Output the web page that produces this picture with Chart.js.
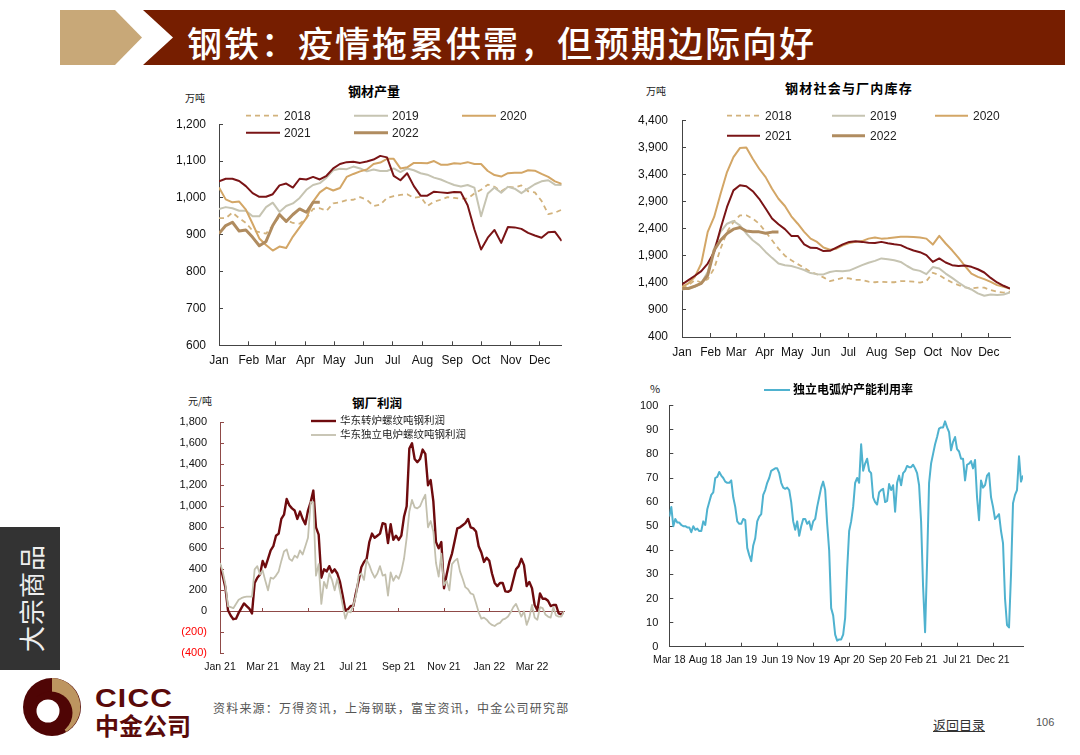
<!DOCTYPE html>
<html>
<head>
<meta charset="utf-8">
<script src="https://cdn.jsdelivr.net/npm/chart.js@4"></script>
<style>
  html, body { margin: 0; padding: 0; background: #fff; }
  body { width: 1080px; height: 755px; position: relative; overflow: hidden;
         font-family: "Liberation Sans", "Noto Sans CJK SC", sans-serif; color: #000; }
  canvas { position: absolute; }
  .abs { position: absolute; white-space: nowrap; line-height: 1; }
  .tan { position: absolute; left: 60px; top: 10px; width: 82px; height: 55px; background: #c8a878;
         clip-path: polygon(0 0, 55px 0, 100% 50%, 55px 100%, 0 100%); }
  .bar { position: absolute; left: 143px; top: 10px; width: 922px; height: 55px; background: #761e00;
         clip-path: polygon(0 0, 100% 0, 100% 100%, 0 100%, 30px 50%); }
  .head { left: 187px; top: 16px; font: 500 35px "Noto Sans CJK SC"; letter-spacing: 2px; color: #fff; }
  .side { position: absolute; left: 0; top: 527px; width: 60px; height: 143px; background: #333; }
  .side span { position: absolute; left: 30px; top: 71px; transform: translate(-50%, -50%) rotate(-90deg);
               font: 26px "Noto Sans CJK SC"; letter-spacing: 1px; color: #eee; white-space: nowrap; }
  .ttl { font: bold 12.5px "Noto Sans CJK SC"; transform: translate(-50%, -50%); }
  .unit { font: 10px "Noto Sans CJK SC"; transform: translateY(-50%); color: #222; }
  .cicc { left: 95px; top: 684px; font: bold 25px "Liberation Sans"; color: #5a0a0a; letter-spacing: 1px;
          transform: scaleX(1.2); transform-origin: left top; }
  .zj { left: 95px; top: 707px; font: bold 24px "Noto Sans CJK SC"; color: #5a0a0a; }
  .src { left: 213px; top: 699px; font: 12px "Noto Sans CJK SC"; letter-spacing: 1.2px; color: #555; }
  .back { left: 933px; top: 715px; font: 13px "Noto Sans CJK SC"; text-decoration: underline; color: #333; }
  .page { left: 1036px; top: 716px; font: 11px "Liberation Sans"; color: #555; }
</style>
</head>
<body>
<div class="tan"></div>
<div class="bar"></div>
<div class="abs head">钢铁&#xFF1A;疫情拖累供需&#xFF0C;但预期边际向好</div>
<div class="side"><span>大宗商品</span></div>

<div class="abs ttl" style="left:374px;top:90px;font-size:13px">钢材产量</div>
<div class="abs unit" style="left:185px;top:97px">万吨</div>
<div class="abs ttl" style="left:849px;top:87px;font-size:13px;letter-spacing:1.2px">钢材社会与厂内库存</div>
<div class="abs unit" style="left:646px;top:90px">万吨</div>
<div class="abs ttl" style="left:377px;top:402px">钢厂利润</div>
<div class="abs unit" style="left:188px;top:400px">元/吨</div>
<div class="abs unit" style="left:650px;top:388px;font-size:11px">%</div>

<canvas id="outputChart" width="410" height="275" style="left:170px;top:100px"></canvas>
<canvas id="stockChart" width="410" height="275" style="left:630px;top:95px"></canvas>
<canvas id="profitChart" width="410" height="290" style="left:170px;top:390px"></canvas>
<canvas id="eafChart" width="410" height="295" style="left:630px;top:378px"></canvas>

<svg class="abs" style="left:18px;top:675px" width="70" height="65" viewBox="18 675 70 65">
  <circle cx="52" cy="707" r="29" fill="#4f0505"/>
  <path d="M52 678 A29 29 0 0 1 66 732 L52 707 Z" fill="#bd9560"/>
  <circle cx="51" cy="713" r="21.5" fill="#4f0505"/>
  <circle cx="48" cy="711" r="11.5" fill="#fff"/>
</svg>
<div class="abs cicc">CICC</div>
<div class="abs zj">中金公司</div>
<div class="abs src">资料来源&#xFF1A;万得资讯&#xFF0C;上海钢联&#xFF0C;富宝资讯&#xFF0C;中金公司研究部</div>
<div class="abs back">返回目录</div>
<div class="abs page">106</div>

<script>
// Weekly data, 52 points per year
const yearLabels = ['2018', '2019', '2020', '2021', '2022'];
const monthLabels = ['Jan', 'Feb', 'Mar', 'Apr', 'May', 'Jun', 'Jul', 'Aug', 'Sep', 'Oct', 'Nov', 'Dec'];
const monthStartDay = [0, 31, 59, 90, 120, 151, 181, 212, 243, 273, 304, 334];

const output2018 = [945,945,960,945,932,911,907,903,925,950,
  940,932,930,945,970,972,965,985,988,994,
  995,1002,995,978,982,1000,1005,1008,1010,1000,
  1003,978,990,995,1002,1000,998,998,1012,1022,
  1036,1030,1018,1030,1028,1034,1018,1015,992,956,
  960,968];
const output2019 = [970,975,972,965,965,950,950,975,987,962,
  978,985,1000,1022,1035,1040,1055,1075,1079,1078,
  1085,1080,1072,1077,1073,1073,1080,1070,1080,1075,
  1067,1063,1055,1050,1042,1035,1031,1035,1028,950,
  1012,1028,1014,1030,1025,1013,1025,1037,1045,1048,
  1036,1035];
const output2020 = [1028,996,988,990,968,930,890,872,857,868,
  864,895,920,945,990,1015,1028,1020,1027,1057,
  1065,1072,1077,1092,1096,1106,1106,1080,1083,1095,
  1095,1094,1100,1090,1090,1094,1093,1097,1092,1092,
  1073,1062,1058,1067,1068,1068,1075,1074,1065,1057,
  1045,1038];
const output2021 = [1045,1052,1052,1046,1032,1013,1003,1003,1010,1034,
  1039,1028,1052,1050,1057,1050,1060,1080,1092,1097,
  1098,1095,1099,1104,1114,1110,1060,1048,1067,1032,
  1006,1006,1017,1015,1013,1016,1015,980,915,860,
  892,913,878,921,920,916,905,898,892,907,
  908,883];
const output2022 = [903,925,934,910,913,893,870,882,925,955,936,955,970,961,988,988];

const stock2018 = [1295,1357,1450,1406,1467,1665,2030,2340,2520,2645,
  2645,2585,2490,2340,2185,2030,1900,1815,1745,1675,
  1600,1555,1500,1430,1460,1490,1480,1455,1455,1420,
  1410,1420,1410,1410,1430,1430,1420,1405,1430,1585,
  1540,1467,1405,1357,1315,1295,1310,1310,1265,1235,
  1220,1235];
const stock2019 = [1277,1295,1326,1390,1600,2030,2340,2490,2540,2460,
  2310,2185,2095,1970,1860,1755,1725,1710,1675,1635,
  1580,1560,1555,1600,1620,1615,1625,1675,1725,1770,
  1805,1850,1835,1815,1785,1710,1645,1620,1560,1690,
  1665,1570,1490,1405,1325,1277,1205,1160,1185,1175,
  1185,1220];
const stock2020 = [1326,1390,1510,1755,2340,2615,3044,3443,3720,3885,
  3897,3688,3504,3350,3136,2950,2817,2627,2490,2340,
  2216,2155,2050,2010,2030,2090,2135,2155,2170,2215,
  2235,2215,2222,2235,2250,2250,2245,2235,2215,2105,
  2265,2125,2000,1860,1710,1570,1510,1467,1418,1357,
  1326,1295];
const stock2021 = [1370,1450,1530,1615,1755,1970,2400,2800,3105,3200,
  3180,3090,2950,2770,2585,2480,2390,2265,2265,2110,
  2045,2040,1985,1990,2050,2110,2155,2165,2155,2140,
  2135,2155,2130,2110,2095,2040,1995,1965,1910,1785,
  1850,1775,1725,1710,1720,1695,1650,1590,1490,1406,
  1345,1295];
const stock2022 = [1295,1295,1340,1390,1540,2000,2185,2310,2390,2420,2355,2340,2340,2315,2335,2335];

// Profit series, sampled evenly along the axis
const profitLabels = ['Jan 21', 'Mar 21', 'May 21', 'Jul 21', 'Sep 21', 'Nov 21', 'Jan 22', 'Mar 22'];
const profitTickIndex = [0, 16, 33, 50, 67, 84, 101, 117];
const profitNames = ['华东转炉螺纹吨钢利润', '华东独立电炉螺纹吨钢利润'];
const profitConverter = [440,340,230,10,-40,-75,-70,-15,30,75,
  50,25,-20,270,320,350,480,420,500,580,
  620,720,740,880,920,1070,1010,980,960,880,
  950,880,830,960,1040,1150,800,730,320,400,
  380,430,370,400,360,280,150,10,20,50,
  50,180,290,420,470,500,660,740,700,720,
  740,840,830,650,830,680,720,680,720,900,
  1000,1550,1600,1450,1420,1450,1540,1500,1200,1250,
  1050,660,600,660,220,350,470,550,670,790,
  800,820,840,880,800,790,760,620,560,470,
  510,480,360,270,240,270,270,190,185,200,
  300,400,430,500,440,240,280,220,60,10,
  170,120,120,100,50,60,60,-20,-30,-5];
const profitEaf = [460,380,260,50,40,30,70,110,125,135,
  140,140,140,400,430,350,390,290,200,320,
  310,340,380,480,570,590,500,480,530,510,
  580,540,620,700,1040,1040,340,450,70,280,
  220,360,300,200,310,190,60,-70,0,-10,
  60,150,340,360,300,490,440,370,320,360,
  430,340,350,150,370,290,340,310,380,500,
  700,950,1060,990,980,1000,1060,1110,800,860,
  760,460,330,550,250,290,200,450,480,500,
  380,310,230,210,170,160,80,-10,-70,-60,
  -80,-110,-130,-140,-120,-110,-80,-70,-50,-10,
  40,70,10,-50,0,-130,-60,60,-60,-80,
  40,30,-30,-50,-60,40,-40,-50,-50,0];

// EAF utilisation, sampled evenly along the axis
const eafLabels = ['Mar 18', 'Aug 18', 'Jan 19', 'Jun 19', 'Nov 19', 'Apr 20', 'Sep 20', 'Feb 21', 'Jul 21', 'Dec 21'];
const eafTickIndex = [0, 18, 36, 54, 72, 90, 108, 126, 144, 162];
const eafName = '独立电弧炉产能利用率';
const eafRate = [54,58,50,53,51.5,51.5,50.5,50,50,49.5,
  49.5,47.5,50,48.5,49,48,48,52,50.5,57,
  60,63,64,70,70.5,72.5,71,70,68.5,68,
  68,69,62,58,52,51,51,53,52.5,41,
  38,35.5,42,45,52,54,55,63,65,68,
  70,73,73.5,74,74,72,68,66,65.5,66,
  65,60,52,48.5,52,46,50,53,53,51,
  52,48.5,52,53,58,62,66,68.5,65,51,
  40,16,13,5,2.5,3,3,5,12,32,
  48,52,58,68,70,68,84,73,76,78,
  73,72,62,60,59,64,65,65.5,60,60.5,
  67.5,65,67,56,68,71,67,72,73,75,
  74.5,74.5,75.5,74,72,67,52,25,6,35,
  68,76,80,84,87,90.5,91,91,93.5,91,
  89,81.5,85,87,82,81,78,78,69,75.5,
  76,77,74,77.5,62,52.5,69,66,67,71,
  72,62,58,53,54,55,48,43,20,9,
  8,30,59.5,63,65,79,68.5,71];

const C2018 = '#d2b27c', C2019 = '#c6c4b2', C2020 = '#d3a666', C2021 = '#7a1416', C2022 = '#b08c60';
const FONT = '"Liberation Sans", "Noto Sans CJK SC", sans-serif';

function pts(values) {
  return values.map((y, i) => ({ x: i, y }));
}

function line(label, values, color, width, dash) {
  return { label, data: pts(values), borderColor: color, borderWidth: width, borderDash: dash || [],
           pointRadius: 0, tension: 0, borderJoinStyle: 'round', fill: false };
}

// Later series are painted on top
function stack(datasets) {
  datasets.forEach((d, i) => { d.order = -i; });
  return datasets;
}

function xAxis(tickValues, tickLabels, max, o) {
  const axis = {
    type: 'linear', min: 0, max,
    afterBuildTicks(s) { s.ticks = tickValues.map(value => ({ value })); },
    border: { color: o.axisColor, width: 1 },
    grid: { drawOnChartArea: false, tickLength: -4, tickColor: o.axisColor },
    ticks: { autoSkip: false, maxRotation: 0, minRotation: 0, padding: o.padding, color: '#111',
             font: { family: FONT, size: o.size }, callback: (v, i) => tickLabels[i] }
  };
  if (o.position) axis.position = o.position;
  return axis;
}

function yAxis(min, max, stepSize, o) {
  return {
    min, max,
    border: { color: o.axisColor, width: 1 },
    grid: { drawOnChartArea: false, tickLength: -4, tickColor: o.axisColor },
    ticks: { stepSize, padding: o.padding, color: o.color || '#111', font: { family: FONT, size: o.size },
             callback: o.format }
  };
}

// Legend at fixed spots, all in page pixels
const legendSpots = {
  id: 'legendSpots',
  afterDraw(chart, args, opts) {
    if (!opts.spots) return;
    const ctx = chart.ctx;
    const ox = chart.canvas.offsetLeft, oy = chart.canvas.offsetTop;
    ctx.save();
    chart.data.datasets.forEach((d, i) => {
      const s = opts.spots[i];
      ctx.beginPath();
      ctx.setLineDash(d.borderDash);
      ctx.strokeStyle = d.borderColor;
      ctx.lineWidth = d.borderWidth;
      ctx.moveTo(s[0] - ox, s[1] - oy);
      ctx.lineTo(s[0] + opts.len - ox, s[1] - oy);
      ctx.stroke();
      ctx.setLineDash([]);
      ctx.fillStyle = opts.color;
      ctx.font = opts.font;
      ctx.textBaseline = 'middle';
      ctx.fillText(d.label, s[0] + opts.len + opts.gap - ox, s[1] - oy + 0.5);
    });
    ctx.restore();
  }
};
Chart.register(legendSpots);

// canvas box and plot box are page pixels; axis boxes are sized to fill the gap
function draw(id, plot, datasets, scales, legend) {
  const el = document.getElementById(id);
  const left = el.offsetLeft, top = el.offsetTop;
  const below = top + el.height - plot.b;
  const floating = !!scales.x.position;
  scales.y.afterFit = s => { s.width = plot.l - left; };
  scales.x.afterFit = s => {
    s.paddingLeft = 0;
    s.paddingRight = 0;
    if (!floating) s.height = below;
  };
  new Chart(el.getContext('2d'), {
    type: 'line',
    data: { datasets },
    options: {
      responsive: false, animation: false,
      layout: { padding: { left: 0, top: plot.t - top, right: left + el.width - plot.r, bottom: floating ? below : 0 } },
      plugins: { legend: { display: false }, tooltip: { enabled: false }, title: { display: false }, legendSpots: legend },
      scales
    }
  });
}

const comma = v => v.toLocaleString('en-US');
const weekTicks = monthStartDay.map(d => d / 7);

draw('outputChart', { l: 219, t: 121.7, r: 561.7, b: 345.3 },
  stack([
    line(yearLabels[0], output2018, C2018, 1.8, [5, 4]),
    line(yearLabels[1], output2019, C2019, 2),
    line(yearLabels[2], output2020, C2020, 2),
    line(yearLabels[3], output2021, C2021, 2),
    line(yearLabels[4], output2022, C2022, 3)
  ]), {
    x: xAxis(weekTicks, monthLabels, 51, { axisColor: '#444', padding: 12, size: 12 }),
    y: yAxis(600, 1200, 100, { axisColor: '#444', padding: 17, size: 12, format: comma })
  }, {
    spots: [[246, 115.7], [354, 115.7], [462, 115.7], [246, 132.7], [354, 132.7]],
    len: 34, gap: 4, color: '#222', font: '12px ' + FONT
  });

draw('stockChart', { l: 682, t: 119.7, r: 1010, b: 337 },
  stack([
    line(yearLabels[0], stock2018, C2018, 1.8, [5, 4]),
    line(yearLabels[1], stock2019, C2019, 2),
    line(yearLabels[2], stock2020, C2020, 2),
    line(yearLabels[3], stock2021, C2021, 2),
    line(yearLabels[4], stock2022, C2022, 3)
  ]), {
    x: xAxis(weekTicks, monthLabels, 51, { axisColor: '#444', padding: 12, size: 12 }),
    y: yAxis(400, 4400, 500, { axisColor: '#444', padding: 18, size: 12, format: comma })
  }, {
    spots: [[727, 115.7], [832, 115.7], [935, 115.7], [727, 135.7], [832, 135.7]],
    len: 33, gap: 5, color: '#222', font: '12px ' + FONT
  });

const RED_AXIS = '#8f4a48';
draw('profitChart', { l: 220, t: 422.3, r: 564, b: 653.3 },
  stack([
    line(profitNames[0], profitConverter, '#6e0b0e', 2.4),
    line(profitNames[1], profitEaf, '#c3c0ae', 1.8)
  ]), {
    x: xAxis(profitTickIndex, profitLabels, 129, { axisColor: RED_AXIS, padding: 54, size: 10.5, position: { y: 0 } }),
    y: yAxis(-400, 1800, 200, {
      axisColor: RED_AXIS, padding: 17, size: 11,
      format: v => (v < 0 ? '(' + comma(-v) + ')' : comma(v)),
      color: ctx => (ctx.tick && ctx.tick.value < 0 ? '#f00' : '#111')
    })
  }, {
    spots: [[311, 421], [311, 435]],
    len: 25, gap: 4, color: '#222', font: '10.5px ' + FONT
  });

draw('eafChart', { l: 669.3, t: 405.7, r: 1023, b: 646.7 },
  [line(eafName, eafRate, '#4fb2cf', 2)], {
    x: xAxis(eafTickIndex, eafLabels, 177, { axisColor: '#444', padding: 11, size: 10.5 }),
    y: yAxis(0, 100, 10, { axisColor: '#444', padding: 15, size: 11, format: comma })
  }, {
    spots: [[764, 390]],
    len: 26, gap: 3, color: '#000', font: 'bold 12px ' + FONT
  });
</script>
</body>
</html>
